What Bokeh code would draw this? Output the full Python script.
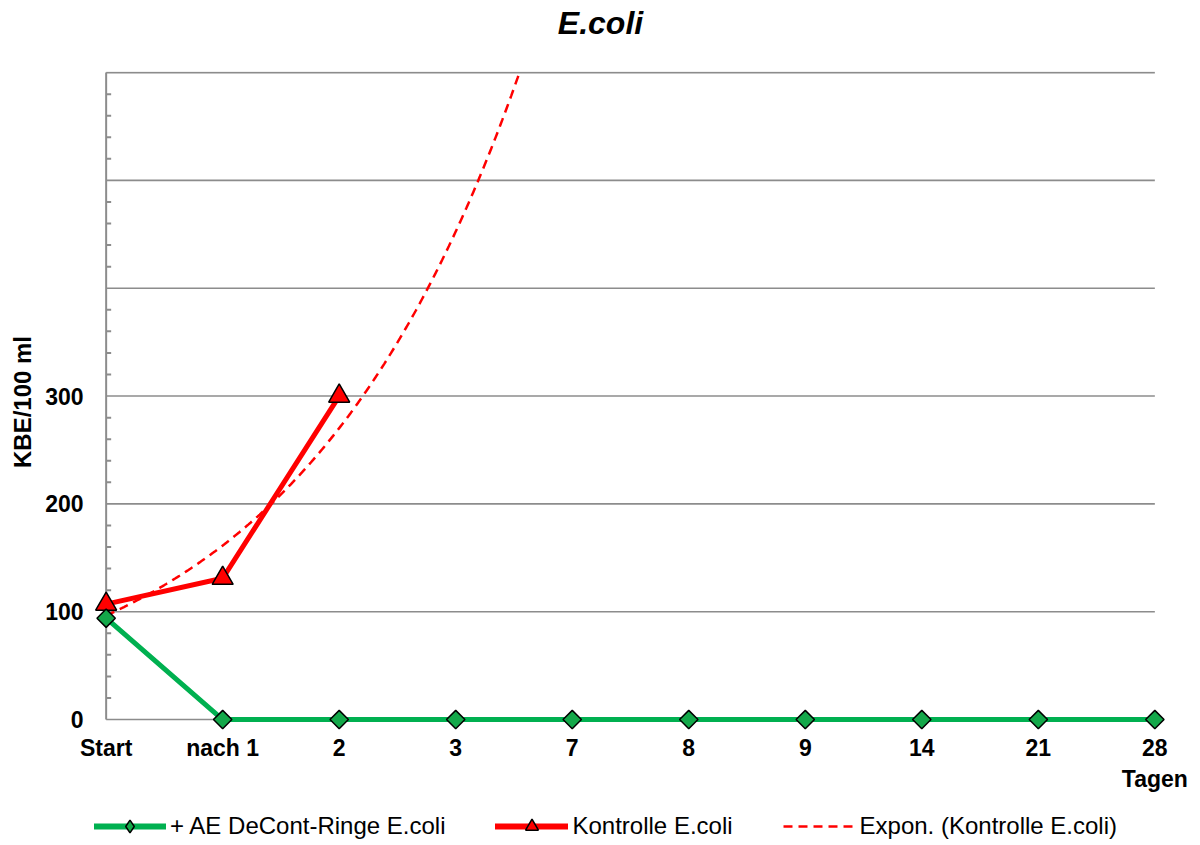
import numpy as np
from bokeh.plotting import figure
from bokeh.layouts import column
from bokeh.models import (Range1d, FixedTicker, Legend, LegendItem, ColumnDataSource)
from bokeh.core.properties import value
from bokeh.embed import file_html
from bokeh.resources import INLINE

title = "E.coli"
categories = ["Start", "nach 1", "2", "3", "7", "8", "9", "14", "21", "28"]
x_unit = "Tagen"
decont = [94, 0, 0, 0, 0, 0, 0, 0, 0, 0]
kontrolle = [107, 131, 300]
y_ticks = [0, 100, 200, 300, 400, 500, 600]
y_labels = ["0", "100", "200", "300", "", "", ""]
minor_step = 20

FONT = "Liberation Sans"
GREEN = "#00B050"
DGREEN = "#14A84A"
RED = "#FF0000"
GRAY = "#8C8C8C"

W = 1200
BL, BR = 94, 34  # left / right borders shared by all strips

xi = np.arange(len(categories))
src_g = ColumnDataSource(dict(x=xi, y=decont))
src_r = ColumnDataSource(dict(x=xi[:len(kontrolle)], y=kontrolle))

# Excel-style exponential trendline fitted on the Kontrolle series (x = 1..n)
xk = np.arange(1, len(kontrolle) + 1)
b, lna = np.polyfit(xk, np.log(kontrolle), 1)
xt = np.linspace(1, 4.8, 200)
src_t = ColumnDataSource(dict(x=xt - 1, y=np.exp(lna + b * xt)))


def strip(h):
    f = figure(width=W, height=h, output_backend="svg", toolbar_location=None,
               x_axis_type=None, y_axis_type=None,
               x_range=Range1d(BL, W - BR), y_range=Range1d(0, h),
               min_border_left=BL, min_border_right=BR, min_border_top=0, min_border_bottom=0,
               outline_line_color=None)
    f.xgrid.grid_line_color = None
    f.ygrid.grid_line_color = None
    return f


# ---------------- title strip ----------------
tf = strip(40)
tf.text(x=[W / 2], y=[18], text=[title], text_font=value(FONT), text_font_style="bold italic",
        text_font_size="32px", text_align="center", text_baseline="middle", text_color="black")

# ---------------- main chart ----------------
pad = 0.1
p = figure(width=W, height=765, output_backend="svg", toolbar_location=None,
           x_range=Range1d(xi[0] - pad, xi[-1] + pad), y_range=Range1d(-12, 601),
           min_border_left=BL, min_border_right=BR, min_border_top=31, min_border_bottom=73)
p.outline_line_color = None
p.background_fill_color = "white"
p.xgrid.grid_line_color = None
p.ygrid.grid_line_color = None

# gridlines, axis line and minor ticks spanning exactly the category extent
p.segment(x0=[xi[0]] * len(y_ticks), x1=[xi[-1]] * len(y_ticks), y0=y_ticks, y1=y_ticks,
          line_color=GRAY, line_width=1.6)
p.segment(x0=[xi[0]], x1=[xi[0]], y0=[y_ticks[0]], y1=[y_ticks[-1]], line_color=GRAY, line_width=2)
minor = [v for v in range(y_ticks[0], y_ticks[-1] + 1, minor_step) if v not in y_ticks]
p.ray(x=[xi[0]] * len(minor), y=minor, length=5, length_units="screen", angle=0,
      line_color=GRAY, line_width=2)

# axes (labels only)
p.xaxis.ticker = FixedTicker(ticks=list(xi))
ov = {int(i): c for i, c in zip(xi, categories)}
ov[int(xi[-1])] = categories[-1] + "\n" + x_unit
p.xaxis.major_label_overrides = ov
p.yaxis.ticker = FixedTicker(ticks=y_ticks)
p.yaxis.major_label_overrides = {t: l for t, l in zip(y_ticks, y_labels)}
for ax in (p.xaxis, p.yaxis):
    ax.axis_line_color = None
    ax.major_tick_line_color = None
    ax.minor_tick_line_color = None
    ax.major_tick_in = 0
    ax.major_tick_out = 0
    ax.minor_tick_in = 0
    ax.minor_tick_out = 0
    ax.major_label_text_font = FONT
    ax.major_label_text_font_style = "bold"
    ax.major_label_text_font_size = "23px"
    ax.major_label_text_color = "black"
p.xaxis.major_label_standoff = 2
p.yaxis.major_label_standoff = 11
p.yaxis.axis_label = "KBE/100 ml"
p.yaxis.axis_label_text_font = FONT
p.yaxis.axis_label_text_font_style = "bold"
p.yaxis.axis_label_text_font_size = "24px"
p.yaxis.axis_label_text_color = "black"
p.yaxis.axis_label_standoff = 6

# series
p.line("x", "y", source=src_t, line_color=RED, line_width=2.5, line_dash="9 6")
p.line("x", "y", source=src_r, line_color=RED, line_width=5)
p.line("x", "y", source=src_g, line_color=GREEN, line_width=5)
p.scatter("x", "y", source=src_r, marker="triangle", size=21,
          fill_color=RED, line_color="black", line_width=1.5)
p.scatter("x", "y", source=src_g, marker="square", angle=np.pi / 4, size=13,
          fill_color=DGREEN, line_color="black", line_width=1.5)

# ---------------- legend strip ----------------
lg = strip(40)
off = dict(x=[-5], y=[-5])  # proxy renderers, outside the visible range
l1 = lg.line("x", "y", source=ColumnDataSource(off), line_color=GREEN, line_width=6, line_cap="round")
m1 = lg.scatter("x", "y", source=ColumnDataSource(off), marker="diamond", size=14,
                fill_color=DGREEN, line_color="black", line_width=1.5)
l2 = lg.line("x", "y", source=ColumnDataSource(off), line_color=RED, line_width=6, line_cap="round")
m2 = lg.scatter("x", "y", source=ColumnDataSource(off), marker="triangle", size=14,
                fill_color=RED, line_color="black", line_width=1.5)
l3 = lg.line("x", "y", source=ColumnDataSource(off), line_color=RED, line_width=2.5, line_dash="9 6")

legend = Legend(items=[
    LegendItem(label="+ AE DeCont-Ringe E.coli", renderers=[l1, m1]),
    LegendItem(label="Kontrolle E.coli", renderers=[l2, m2]),
    LegendItem(label="Expon. (Kontrolle E.coli)", renderers=[l3]),
], orientation="horizontal", location=(-1, 3), glyph_width=73, glyph_height=32,
    label_text_font=FONT, label_text_font_size="24px", label_text_color="black",
    spacing=50, label_standoff=4, border_line_color=None, background_fill_alpha=0,
    margin=0, padding=1)
lg.add_layout(legend, "center")

layout = column(tf, p, lg, spacing=0)
open("out.html", "w").write(file_html(layout, INLINE))
